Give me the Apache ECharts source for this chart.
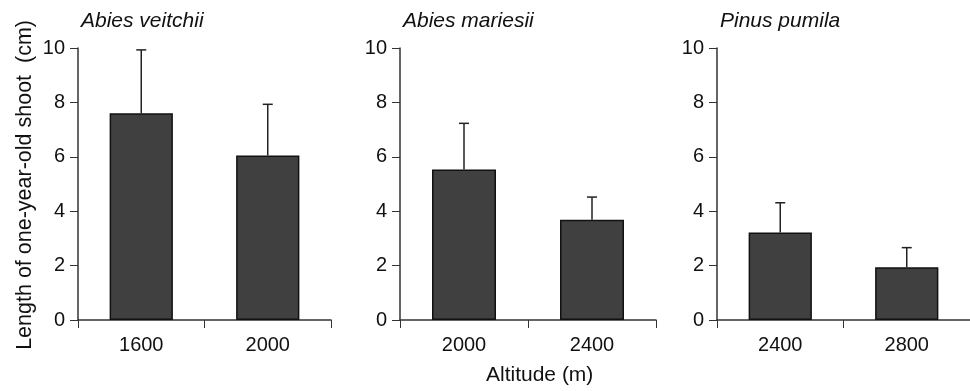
<!DOCTYPE html>
<html>
<head>
<meta charset="utf-8">
<script src="https://cdn.jsdelivr.net/npm/echarts@6/dist/echarts.min.js"></script>
<style>html,body{margin:0;padding:0;background:#fff}#c{width:970px;height:391px}</style>
</head>
<body>
<div id="c"></div>
<script>
const species = ['Abies veitchii', 'Abies mariesii', 'Pinus pumila'];
const altitudes1 = ['1600', '2000'];
const altitudes2 = ['2000', '2400'];
const altitudes3 = ['2400', '2800'];
const means1 = [7.6, 6.05];
const means2 = [5.53, 3.69];
const means3 = [3.22, 1.94];
const upper1 = [9.93, 7.93];
const upper2 = [7.23, 4.52];
const upper3 = [4.31, 2.66];
const yTicks = [0, 2, 4, 6, 8, 10];

const cats = [altitudes1, altitudes2, altitudes3];
const means = [means1, means2, means3];
const uppers = [upper1, upper2, upper3];
const gridPos = [
  {left: 78, width: 253},
  {left: 400, width: 256},
  {left: 717, width: 258}
];
const FONT = 'Liberation Sans, Arial, sans-serif';
const AX = '#333';

const chart = echarts.init(document.getElementById('c'));
const grids = [], xAxes = [], yAxes = [], series = [], titles = [];
for (let i = 0; i < 3; i++) {
  grids.push({left: gridPos[i].left, width: gridPos[i].width, top: 48, height: 272, containLabel: false});
  titles.push({text: species[i], left: gridPos[i].left - 2, top: 6,
    textStyle: {fontFamily: FONT, fontStyle: 'italic', fontWeight: 'normal', fontSize: 21, color: '#111'}});
  xAxes.push({type: 'category', gridIndex: i, data: cats[i], boundaryGap: true,
    axisLine: {lineStyle: {color: AX, width: 1.5}},
    axisTick: {show: true, length: 8, inside: false, lineStyle: {color: AX, width: 1}},
    axisLabel: {fontFamily: FONT, fontSize: 20, color: '#111', margin: 15},
    splitLine: {show: false}});
  yAxes.push({type: 'value', gridIndex: i, min: yTicks[0], max: yTicks[yTicks.length - 1], interval: 2,
    axisLine: {show: true, lineStyle: {color: AX, width: 1.5}},
    axisTick: {show: true, length: 8, lineStyle: {color: AX, width: 1}},
    axisLabel: {fontFamily: FONT, fontSize: 20, color: '#111', margin: 13},
    splitLine: {show: false}});
  series.push({type: 'bar', xAxisIndex: i, yAxisIndex: i, data: means[i], barWidth: '50%',
    itemStyle: {color: '#404040', borderColor: '#111', borderWidth: 1.5}, silent: true, z: 2});
  series.push({type: 'custom', xAxisIndex: i, yAxisIndex: i, z: 3,
    data: means[i].map((m, k) => [k, m, uppers[i][k]]),
    renderItem: function (params, api) {
      const base = api.coord([api.value(0), api.value(1)]);
      const top = api.coord([api.value(0), api.value(2)]);
      const hw = 5;
      return {type: 'group', children: [
        {type: 'line', shape: {x1: base[0], y1: base[1], x2: top[0], y2: top[1]}, style: {stroke: '#222', lineWidth: 1.5}},
        {type: 'line', shape: {x1: top[0] - hw, y1: top[1], x2: top[0] + hw, y2: top[1]}, style: {stroke: '#222', lineWidth: 1.5}}
      ]};
    }});
}

chart.setOption({
  backgroundColor: '#fff',
  animation: false,
  title: titles,
  grid: grids,
  xAxis: xAxes,
  yAxis: yAxes,
  series: series,
  graphic: [
    {type: 'text', left: 14, top: 20, rotation: Math.PI / 2,
      style: {text: 'Length of one-year-old shoot  (cm)', fontFamily: FONT, fontSize: 21.5, fill: '#111'}},
    {type: 'text', left: 486, top: 365,
      style: {text: 'Altitude (m)', fontFamily: FONT, fontSize: 21, fill: '#111'}}
  ]
});
</script>
</body>
</html>
